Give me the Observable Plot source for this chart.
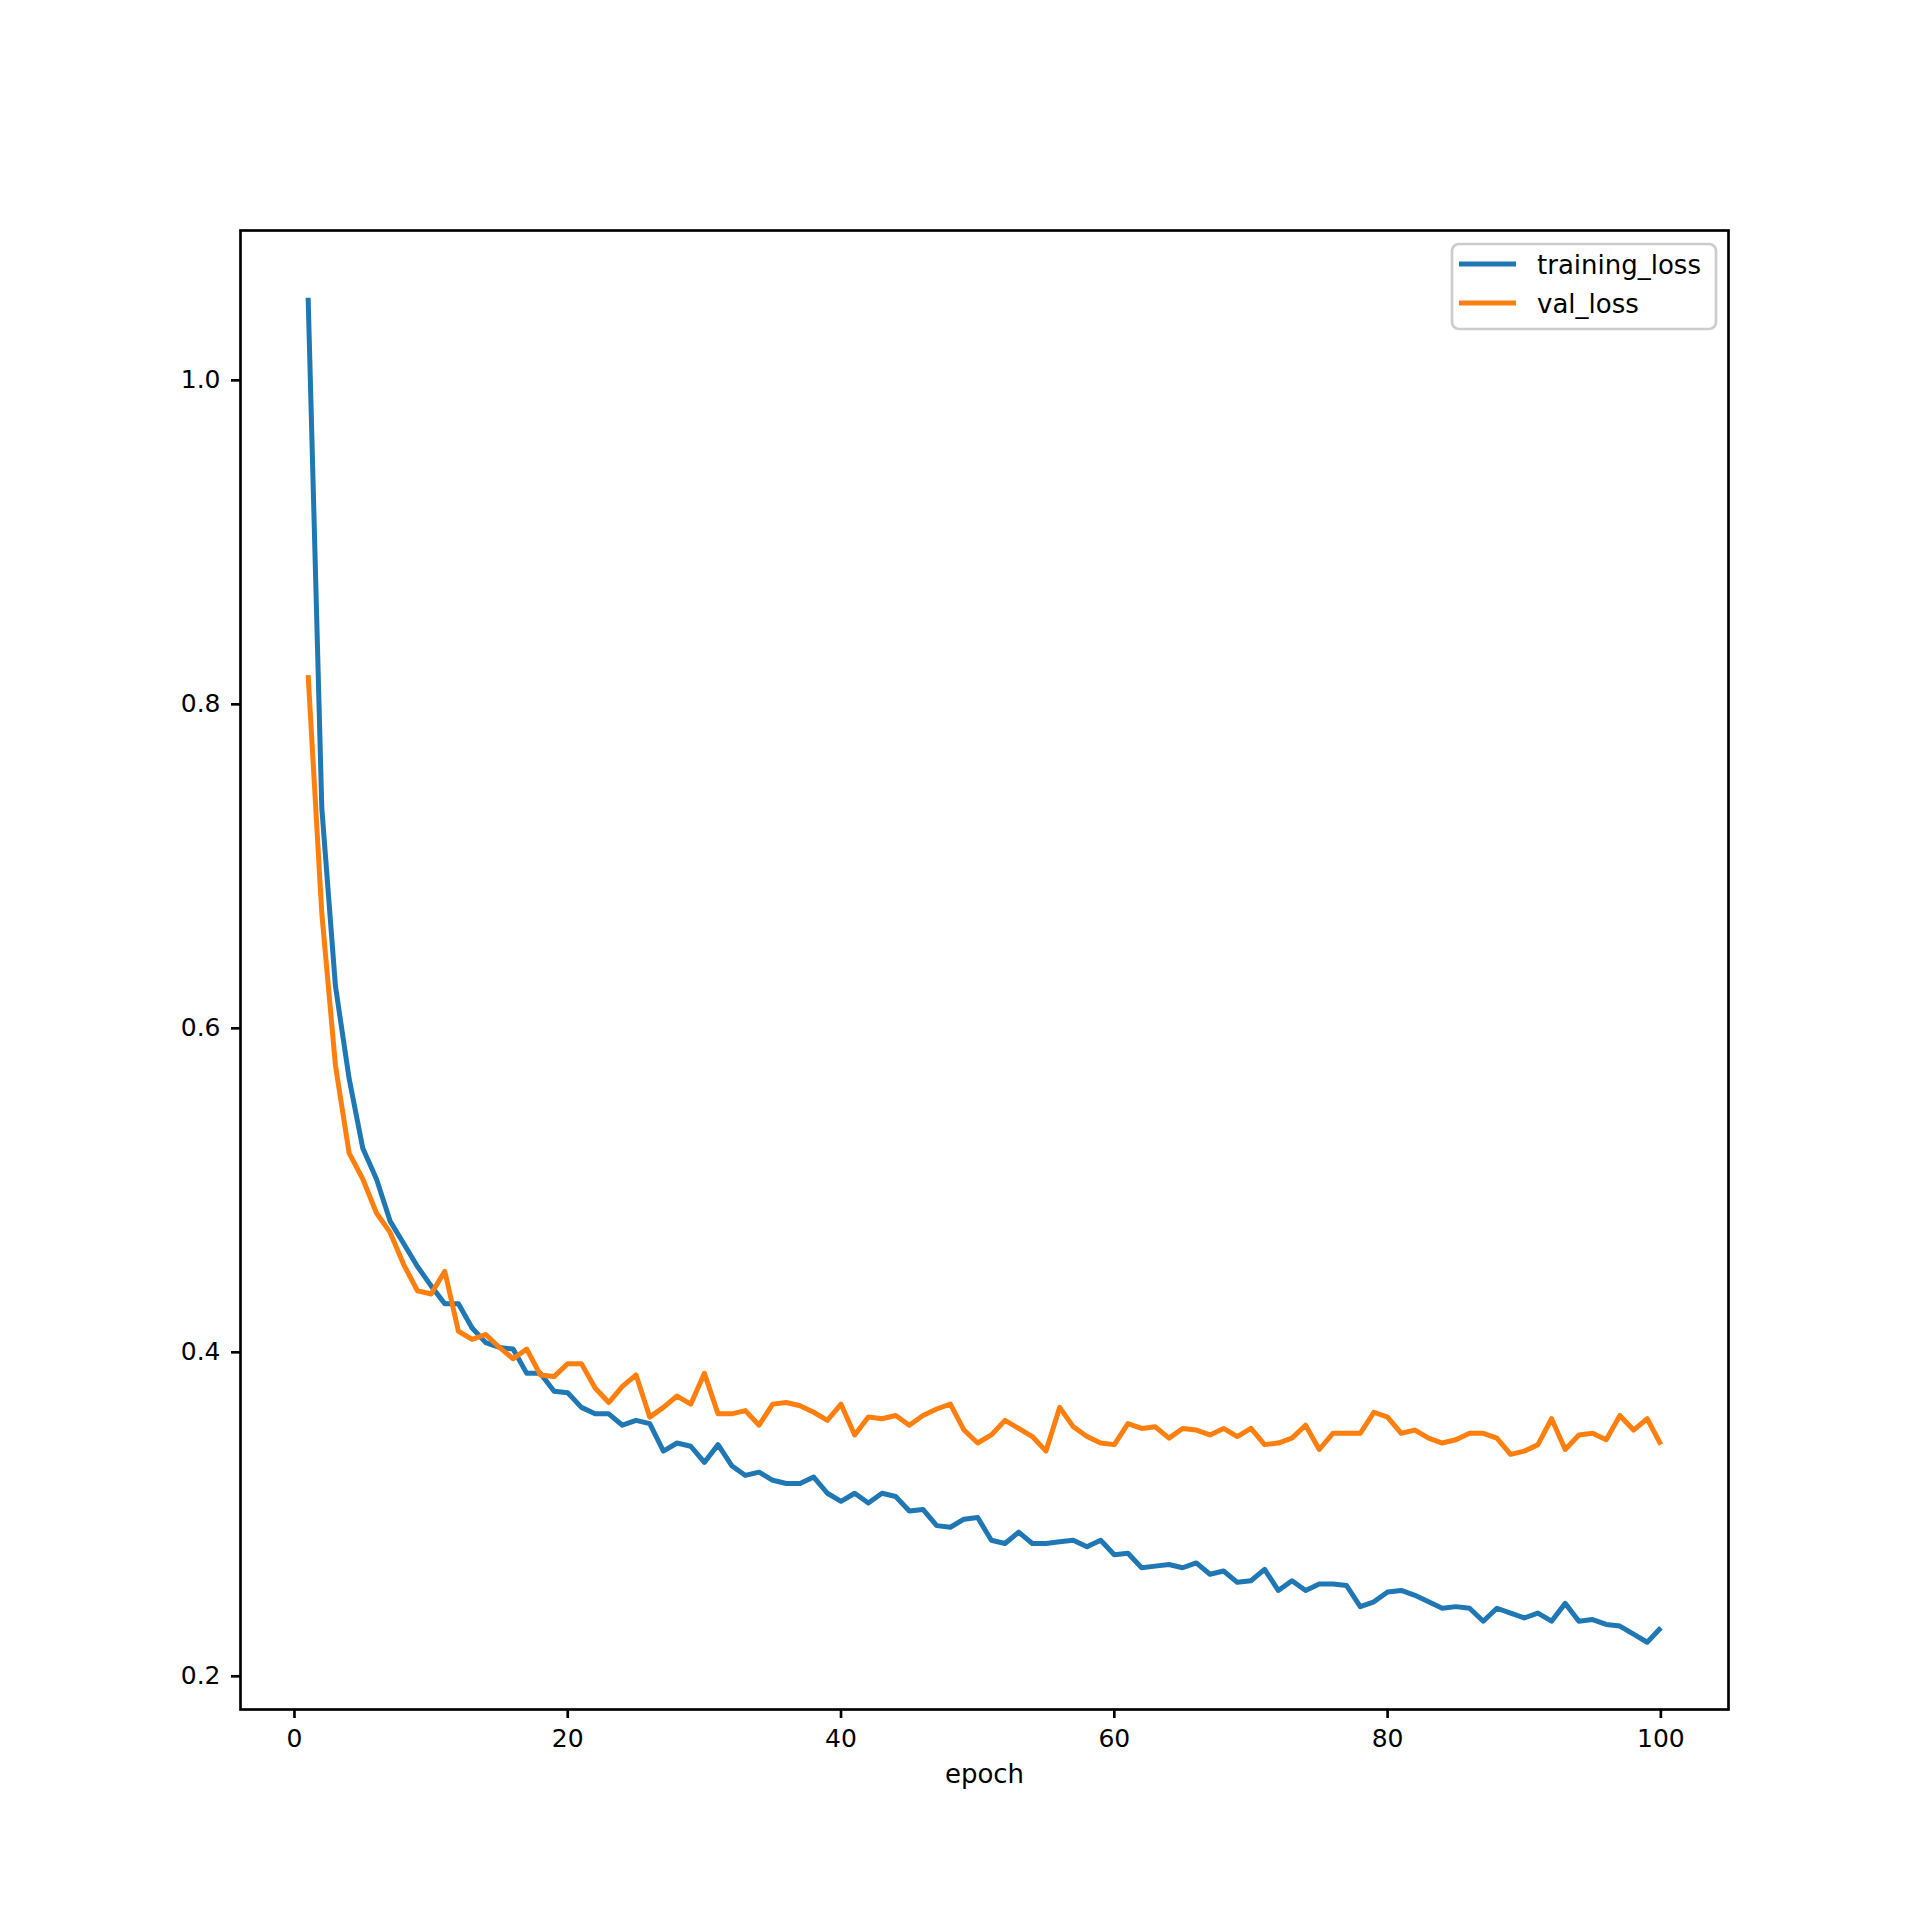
<!DOCTYPE html>
<html>
<head>
<meta charset="utf-8">
<script src="https://cdn.jsdelivr.net/npm/d3@7"></script>
<script src="https://cdn.jsdelivr.net/npm/@observablehq/plot@0.6"></script>
<style>
  html, body { margin: 0; padding: 0; background: white; }
  #chart { width: 1920px; height: 1920px; }
</style>
</head>
<body>
<div id="chart"></div>
<script>
// ---- Data ----
const seriesNames = ["training_loss", "val_loss"];
const seriesColors = ["#1f77b4", "#ff7f0e"];
const epochs = d3.range(1, 101);
const trainingLoss = [
  1.051, 0.736, 0.626, 0.569, 0.526, 0.507, 0.481, 0.467, 0.453, 0.441,
  0.430, 0.430, 0.415, 0.406, 0.403, 0.402, 0.387, 0.387, 0.376, 0.375,
  0.366, 0.362, 0.362, 0.355, 0.358, 0.356, 0.339, 0.344, 0.342, 0.332,
  0.343, 0.330, 0.324, 0.326, 0.321, 0.319, 0.319, 0.323, 0.313, 0.308,
  0.313, 0.307, 0.313, 0.311, 0.302, 0.303, 0.293, 0.292, 0.297, 0.298,
  0.284, 0.282, 0.289, 0.282, 0.282, 0.283, 0.284, 0.280, 0.284, 0.275,
  0.276, 0.267, 0.268, 0.269, 0.267, 0.270, 0.263, 0.265, 0.258, 0.259,
  0.266, 0.253, 0.259, 0.253, 0.257, 0.257, 0.256, 0.243, 0.246, 0.252,
  0.253, 0.250, 0.246, 0.242, 0.243, 0.242, 0.234, 0.242, 0.239, 0.236,
  0.239, 0.234, 0.245, 0.234, 0.235, 0.232, 0.231, 0.226, 0.221, 0.230
];
const valLoss = [
  0.818, 0.671, 0.577, 0.523, 0.507, 0.486, 0.474, 0.454, 0.438, 0.436,
  0.450, 0.413, 0.408, 0.411, 0.403, 0.396, 0.402, 0.386, 0.385, 0.393,
  0.393, 0.378, 0.369, 0.379, 0.386, 0.360, 0.366, 0.373, 0.368, 0.387,
  0.362, 0.362, 0.364, 0.355, 0.368, 0.369, 0.367, 0.363, 0.358, 0.368,
  0.349, 0.360, 0.359, 0.361, 0.355, 0.361, 0.365, 0.368, 0.352, 0.344,
  0.349, 0.358, 0.353, 0.348, 0.339, 0.366, 0.354, 0.348, 0.344, 0.343,
  0.356, 0.353, 0.354, 0.347, 0.353, 0.352, 0.349, 0.353, 0.348, 0.353,
  0.343, 0.344, 0.347, 0.355, 0.340, 0.350, 0.350, 0.350, 0.363, 0.360,
  0.350, 0.352, 0.347, 0.344, 0.346, 0.350, 0.350, 0.347, 0.337, 0.339,
  0.343, 0.359, 0.340, 0.349, 0.350, 0.346, 0.361, 0.352, 0.359, 0.343
];
const xTicks = [0, 20, 40, 60, 80, 100];
const yTicks = [0.2, 0.4, 0.6, 0.8, 1.0];
const xLabel = "epoch";

// ---- Build table ----
const rows = [];
epochs.forEach((e, i) => {
  rows.push({epoch: e, loss: trainingLoss[i], series: seriesNames[0]});
  rows.push({epoch: e, loss: valLoss[i], series: seriesNames[1]});
});

// matplotlib-style 5% margins
const pad = (lo, hi) => [lo - 0.05 * (hi - lo), hi + 0.05 * (hi - lo)];
const xDomain = pad(d3.min(epochs), d3.max(epochs));
const allLoss = trainingLoss.concat(valLoss);
const yDomain = pad(d3.min(allLoss), d3.max(allLoss));

const W = 1920, H = 1920;
const mL = 240, mR = 192, mT = 230, mB = 211;
const fs = 25;
const tickLen = 9;
const tickPad = 11;
const tickW = 2.67;
const lineW = 5;

const chart = Plot.plot({
  width: W,
  height: H,
  marginLeft: mL,
  marginRight: mR,
  marginTop: mT,
  marginBottom: mB,
  style: {fontFamily: "DejaVu Sans", fontSize: fs + "px", color: "black", background: "white", overflow: "visible"},
  x: {domain: xDomain},
  y: {domain: yDomain},
  color: {domain: seriesNames, range: seriesColors},
  marks: [
    Plot.axisX({ticks: xTicks, tickSize: tickLen, tickPadding: tickPad, strokeWidth: tickW, label: null, fontSize: fs, fill: "black"}),
    Plot.axisY({ticks: yTicks, tickFormat: ".1f", tickSize: tickLen, tickPadding: tickPad, strokeWidth: tickW, label: null, fontSize: fs, fill: "black"}),
    Plot.line(rows, {x: "epoch", y: "loss", z: "series", stroke: "series", strokeWidth: lineW, strokeLinejoin: "round", strokeLinecap: "butt"}),
    Plot.frame({stroke: "black", strokeWidth: tickW}),
    Plot.text([xLabel], {frameAnchor: "bottom", dy: 65, fontSize: fs + 1, fill: "black", lineAnchor: "middle"})
  ]
});
document.getElementById("chart").appendChild(chart);

// ---- Legend (matplotlib style, upper right inside axes) ----
const svg = d3.select(chart);
const frameRight = W - mR, frameTop = mT;
const boxW = 264, boxH = 85;
const boxX = frameRight - 12 - boxW, boxY = frameTop + 14;
const lg = svg.append("g").attr("text-anchor", "start");
lg.append("rect")
  .attr("x", boxX).attr("y", boxY).attr("width", boxW).attr("height", boxH)
  .attr("rx", 7).attr("ry", 7)
  .attr("fill", "white").attr("fill-opacity", 0.8)
  .attr("stroke", "#cccccc").attr("stroke-width", tickW);
seriesNames.forEach((name, i) => {
  const cy = boxY + 20 + i * 39;
  lg.append("line")
    .attr("x1", boxX + 7).attr("x2", boxX + 64)
    .attr("y1", cy).attr("y2", cy)
    .attr("stroke", seriesColors[i]).attr("stroke-width", lineW);
  lg.append("text")
    .attr("x", boxX + 85).attr("y", cy + 1)
    .attr("text-anchor", "start")
    .attr("dominant-baseline", "central")
    .attr("font-family", "DejaVu Sans").attr("font-size", fs + 1)
    .attr("fill", "black")
    .text(name);
});
</script>
</body>
</html>
